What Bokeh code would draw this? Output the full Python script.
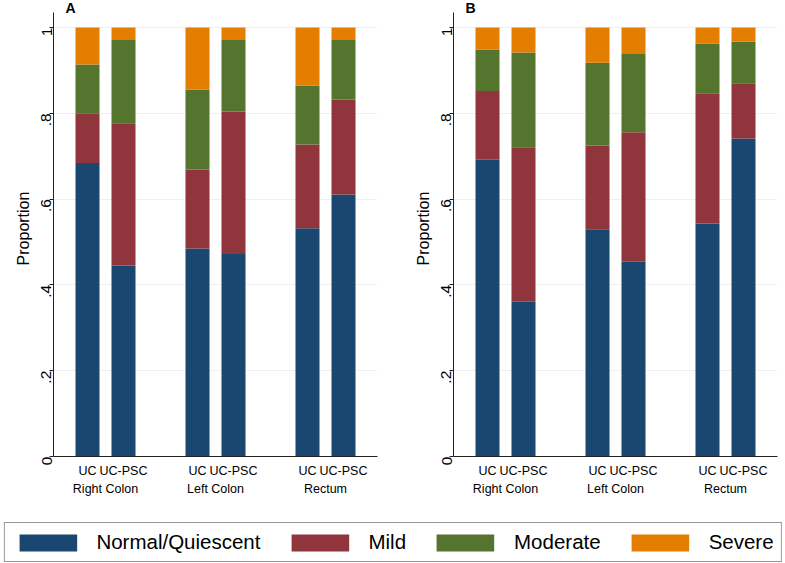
from bokeh.plotting import figure
from bokeh.models import (FactorRange, Range1d, FixedTicker, Legend, LegendItem,
                          ColumnDataSource, CustomJSTickFormatter)
from bokeh.layouts import column, row
from bokeh.embed import file_html
from bokeh.resources import INLINE
from bokeh.core.properties import value

# ---------------- data ----------------
locations = ["Right Colon", "Left Colon", "Rectum"]
cohorts = ["UC", "UC-PSC"]
severity = ["Normal/Quiescent", "Mild", "Moderate", "Severe"]
colors = ["#1a476f", "#90353b", "#55752f", "#e37e00"]

# order: Right Colon UC, Right Colon UC-PSC, Left Colon UC, Left Colon UC-PSC, Rectum UC, Rectum UC-PSC
a_normal = [0.684, 0.445, 0.485, 0.472, 0.532, 0.611]
a_mild = [0.116, 0.332, 0.184, 0.332, 0.195, 0.221]
a_moderate = [0.114, 0.194, 0.186, 0.167, 0.138, 0.139]
a_severe = [0.086, 0.029, 0.145, 0.029, 0.135, 0.029]

b_normal = [0.692, 0.361, 0.530, 0.454, 0.543, 0.741]
b_mild = [0.160, 0.360, 0.195, 0.302, 0.304, 0.129]
b_moderate = [0.097, 0.221, 0.193, 0.182, 0.115, 0.097]
b_severe = [0.051, 0.058, 0.082, 0.062, 0.038, 0.033]

yticks = [0, 0.2, 0.4, 0.6, 0.8, 1.0]
ytick_labels = ["0", ".2", ".4", ".6", ".8", "1"]

FONT = "Liberation Sans"
keys = ["normal", "mild", "moderate", "severe"]
YTOP = 456 / 429


def panel(letter, vals, width, border_right):
    factors = [(loc, c) for loc in locations for c in cohorts]
    data = dict(x=factors)
    for k, v in zip(keys, vals):
        data[k] = v
    src = ColumnDataSource(data)
    xr = FactorRange(*factors, factor_padding=0.0, group_padding=74 / 36 - 1,
                     range_padding=16 / 36, range_padding_units="absolute")
    p = figure(x_range=xr, y_range=Range1d(0, YTOP), width=width, height=515,
               output_backend="svg", toolbar_location=None,
               min_border_left=53, min_border_right=border_right,
               min_border_top=0, min_border_bottom=59)
    p.vbar_stack(keys, x="x", width=24 / 36, fill_color=colors, line_color=None, source=src)

    p.text(x=[factors[0]], y=[YTOP], text=[letter], x_offset=-22, y_offset=-1,
           text_baseline="top", text_align="left", text_font=value(FONT),
           text_font_style="bold", text_font_size="14px", text_color="black")

    p.outline_line_color = None
    p.background_fill_color = "white"
    p.border_fill_color = "white"
    p.xgrid.grid_line_color = None
    p.ygrid.grid_line_color = "#eaf2f3"
    p.ygrid.ticker = FixedTicker(ticks=yticks[1:])

    ya = p.yaxis[0]
    ya.ticker = FixedTicker(ticks=yticks)
    ya.formatter = CustomJSTickFormatter(args=dict(yt=yticks, yl=ytick_labels), code="""
        const i = yt.findIndex(t => Math.abs(t - tick) < 1e-9);
        return i >= 0 ? yl[i] : "";
    """)
    ya.bounds = (0, 1.035)
    ya.axis_label = "Proportion"
    ya.axis_label_text_font = FONT
    ya.axis_label_text_font_style = "normal"
    ya.axis_label_text_font_size = "16px"
    ya.axis_label_text_color = "black"
    ya.axis_label_standoff = 2
    ya.major_label_orientation = 3.14159265 / 2
    ya.major_label_text_font = FONT
    ya.major_label_text_font_size = "15.5px"
    ya.major_label_text_color = "black"
    ya.major_label_standoff = 3
    ya.major_tick_out = 4
    ya.major_tick_in = 0
    ya.minor_tick_line_color = None
    ya.axis_line_color = "#222222"
    ya.major_tick_line_color = "#222222"

    xa = p.xaxis[0]
    xa.major_tick_line_color = None
    xa.minor_tick_line_color = None
    xa.axis_line_color = "#222222"
    xa.major_label_text_font = FONT
    xa.major_label_text_font_size = "12.5px"
    xa.major_label_text_color = "black"
    xa.major_label_standoff = 1
    xa.group_text_font = FONT
    xa.group_text_font_size = "12.5px"
    xa.group_text_font_style = "normal"
    xa.group_text_color = "black"
    xa.separator_line_color = None
    return p


pA = panel("A", [a_normal, a_mild, a_moderate, a_severe], 400, 23)
pB = panel("B", [b_normal, b_mild, b_moderate, b_severe], 385, 8)

leg = figure(width=785, height=48, output_backend="svg", toolbar_location=None,
             min_border=0, x_range=Range1d(0, 1), y_range=Range1d(0, 1),
             x_axis_type=None, y_axis_type=None)
leg.grid.visible = False
leg.outline_line_color = None
items = []
for s, c in zip(severity, colors):
    # off-screen stand-in renderer, used only for the legend swatch
    r = leg.vbar(x=[5], top=[1], width=0.1, fill_color=c, line_color=None)
    items.append(LegendItem(label=s, renderers=[r]))
legend = Legend(items=items, orientation="horizontal", location="bottom_center",
                glyph_width=72, glyph_height=21, label_standoff=13, spacing=23,
                padding=7, margin=1, border_line_color="#333333", border_line_width=1.5,
                label_text_font=FONT, label_text_font_size="20.5px", label_text_color="black",
                background_fill_color="white", background_fill_alpha=1)
leg.add_layout(legend, "center")

layout = column(row(pA, pB), leg)
open("out.html", "w").write(file_html(layout, INLINE))
